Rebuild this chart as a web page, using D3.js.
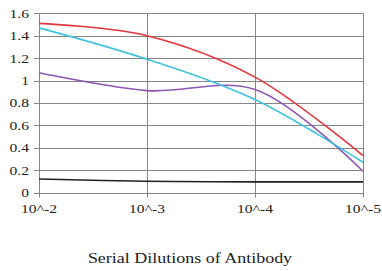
<!DOCTYPE html>
<meta charset="utf-8">
<style>
    body { margin: 0; background: #fff; }
    text { font-family: "Liberation Serif", serif; fill: #222; }
</style>
<body>
<script src="https://cdn.jsdelivr.net/npm/d3@7"></script>
<script>

    var categories = ["10^-2", "10^-3", "10^-4", "10^-5"];
    var yTicks = [0, 0.2, 0.4, 0.6, 0.8, 1, 1.2, 1.4, 1.6];

    var redValues = [1.51, 1.40, 1.03, 0.33];
    var cyanValues = [1.47, 1.19, 0.83, 0.27];
    var purpleValues = [1.07, 0.91, 0.92, 0.19];
    var blackValues = [0.12, 0.10, 0.095, 0.095];

    var series = [
        {name: "black", color: "#222222", values: blackValues},
        {name: "purple", color: "#8e56b5", values: purpleValues},
        {name: "cyan", color: "#3ec4e0", values: cyanValues},
        {name: "red", color: "#e8343c", values: redValues}
    ];

    var width = 382, height = 271;
    var plotLeft = 39, plotRight = 363, plotTop = 13.3, plotBottom = 192.5;
    var stretch = 1.2; // the reference text is a bit wide

    var svg = d3.select("body").append("svg")
        .attr("width", width)
        .attr("height", height);

    var x = d3.scalePoint().domain(categories).range([plotLeft, plotRight]);
    var y = d3.scaleLinear().domain([0, 1.6]).range([plotBottom, plotTop]);

    // horizontal gridlines
    svg.append("g")
        .selectAll("line")
        .data(yTicks)
        .enter().append("line")
        .attr("x1", plotLeft - 5).attr("x2", plotRight)
        .attr("y1", function(d) { return Math.round(y(d)) + 0.5; })
        .attr("y2", function(d) { return Math.round(y(d)) + 0.5; })
        .attr("stroke", "#858585").attr("stroke-width", 1);

    // vertical gridlines + tick marks
    svg.append("g")
        .selectAll("line")
        .data(categories)
        .enter().append("line")
        .attr("x1", function(d) { return Math.round(x(d)) + 0.5; })
        .attr("x2", function(d) { return Math.round(x(d)) + 0.5; })
        .attr("y1", plotTop).attr("y2", plotBottom + 5)
        .attr("stroke", "#858585").attr("stroke-width", 1);

    svg.append("g")
        .selectAll("text")
        .data(yTicks)
        .enter().append("text")
        .attr("transform", function(d) { return "translate(29," + y(d) + ") scale(" + stretch + ",1)"; })
        .attr("dy", "0.35em")
        .attr("text-anchor", "end")
        .style("font-size", "13px")
        .text(function(d) { return d; });

    svg.append("g")
        .selectAll("text")
        .data(categories)
        .enter().append("text")
        .attr("transform", function(d) { return "translate(" + x(d) + ",213) scale(" + stretch + ",1)"; })
        .attr("text-anchor", "middle")
        .style("font-size", "13px")
        .text(function(d) { return d; });

    var line = d3.line()
        .x(function(d, i) { return x(categories[i]); })
        .y(function(d) { return y(d); })
        .curve(d3.curveCatmullRom.alpha(0.5));

    svg.append("g")
        .selectAll("path")
        .data(series)
        .enter().append("path")
        .attr("d", function(d) { return line(d.values); })
        .attr("fill", "none")
        .attr("stroke", function(d) { return d.color; })
        .attr("stroke-width", 1.6);

    svg.append("text")
        .attr("transform", "translate(190,263) scale(" + stretch + ",1)")
        .attr("text-anchor", "middle")
        .style("font-size", "15px")
        .text("Serial Dilutions of Antibody");

</script>
